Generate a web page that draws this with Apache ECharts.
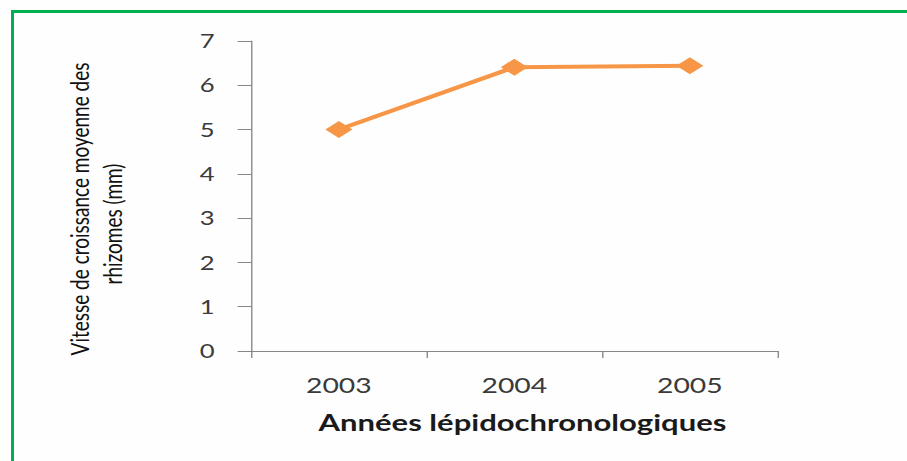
<!DOCTYPE html>
<html>
<head>
<meta charset="utf-8">
<script src="https://cdn.jsdelivr.net/npm/echarts@6/dist/echarts.min.js"></script>
<style>
  html, body { margin: 0; padding: 0; background: #ffffff; overflow: hidden; }
  #wrap { position: relative; width: 907px; height: 461px; overflow: hidden; background: #fefefe; }
  #chart { position: absolute; left: 0; top: 0; width: 672px; height: 461px; transform: scaleX(1.35); transform-origin: 0 0; }
  .gb { position: absolute; background: #00b050; }
</style>
</head>
<body>
<div id="wrap">
  <div id="chart"></div>
  <div class="gb" style="left:11px; top:10px; width:896px; height:3px;"></div>
  <div class="gb" style="left:11px; top:10px; width:3px; height:451px;"></div>
</div>
<script>
const categories = ['2003', '2004', '2005'];
const growthValues = [5.0, 6.41, 6.44];
const yTickValues = [0, 1, 2, 3, 4, 5, 6, 7];
const xAxisTitle = 'Années lépidochronologiques';
const yAxisTitleLines = ['Vitesse de croissance moyenne des', 'rhizomes (mm)'];

const chart = echarts.init(document.getElementById('chart'), null, { renderer: 'svg' });
const axisGray = '#868686';
chart.setOption({
  animation: false,
  backgroundColor: 'transparent',
  grid: { left: 186, right: 96, top: 41, bottom: 110, containLabel: false },
  xAxis: {
    type: 'category',
    data: categories,
    boundaryGap: true,
    axisLine: { lineStyle: { color: axisGray, width: 1 } },
    axisTick: { show: true, length: 7, lineStyle: { color: axisGray } },
    axisLabel: { margin: 23, fontFamily: 'Lato', fontSize: 21, color: '#3a3a3a' },
    name: xAxisTitle,
    nameLocation: 'middle',
    nameGap: 60,
    nameTextStyle: { fontFamily: 'Lato', fontWeight: 'bold', fontSize: 23, color: '#1a1a1a', padding: [0, 0, 0, 12] }
  },
  yAxis: {
    type: 'value',
    min: yTickValues[0],
    max: yTickValues[yTickValues.length - 1],
    interval: 1,
    splitLine: { show: false },
    axisLine: { show: true, lineStyle: { color: axisGray, width: 1 } },
    axisTick: { show: true, length: 10, lineStyle: { color: axisGray } },
    axisLabel: { margin: 27, fontFamily: 'Lato', fontSize: 19, color: '#3a3a3a' }
  },
  graphic: [
    {
      type: 'text', x: 59, y: 209, rotation: Math.PI / 2,
      style: { text: yAxisTitleLines[0], fontFamily: 'Lato', fontSize: 19, fill: '#111111', align: 'center', verticalAlign: 'middle' }
    },
    {
      type: 'text', x: 83, y: 224, rotation: Math.PI / 2,
      style: { text: yAxisTitleLines[1], fontFamily: 'Lato', fontSize: 19, fill: '#111111', align: 'center', verticalAlign: 'middle' }
    }
  ],
  series: [{
    type: 'line',
    data: growthValues,
    symbol: 'diamond',
    symbolSize: [20, 17],
    showAllSymbol: true,
    lineStyle: { color: '#f79646', width: 4 },
    itemStyle: { color: '#f79646' }
  }]
});
</script>
</body>
</html>
